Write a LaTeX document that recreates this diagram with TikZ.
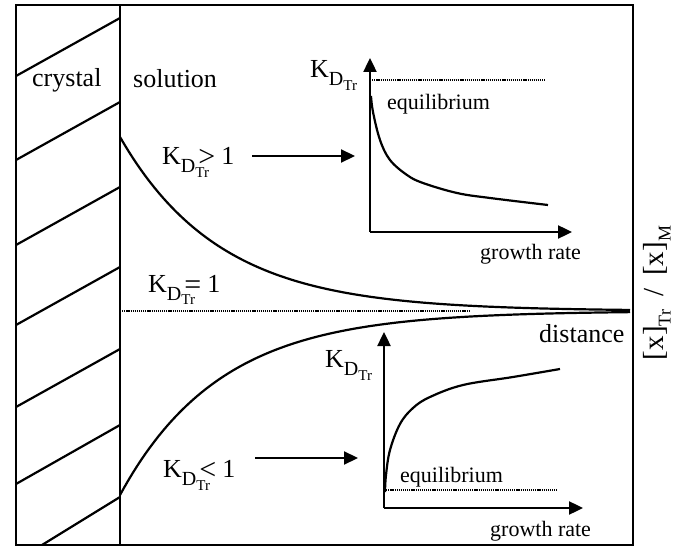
\documentclass[tikz,border=0pt]{standalone}
\usepackage{fontspec}
\setmainfont{Liberation Serif}
\usetikzlibrary{arrows.meta}
\newcommand{\KDlabel}{K\raisebox{-8pt}{\fontsize{20}{20}\selectfont D}\raisebox{-13pt}{\fontsize{15}{15}\selectfont Tr}}
\newcommand{\KDrel}[1]{K\raisebox{-8pt}{\fontsize{20}{20}\selectfont D}\rlap{\raisebox{-13pt}{\fontsize{15}{15}\selectfont Tr}}\hspace{3pt}\raisebox{-2pt}{\fontsize{30}{30}\selectfont #1}\hspace{6pt}1}
\begin{document}
\begin{tikzpicture}[x=1pt,y=-1pt,
  frame/.style={line width=2.2pt},
  curve/.style={line width=2.2pt},
  axisline/.style={line width=2.4pt,-{Triangle[length=14pt,width=13pt]}},
  pointer/.style={line width=2.2pt,-{Triangle[length=14pt,width=13pt]}},
  dotline/.style={line width=1.6pt,dash pattern=on 1.2pt off 0.9pt},
  lab/.style={inner sep=0pt,anchor=base west,font=\fontsize{26}{30}\selectfont},
  smalllab/.style={inner sep=0pt,anchor=base west,font=\fontsize{22}{26}\selectfont}]
\useasboundingbox (0,0) rectangle (691,548);
% frame
\draw[frame] (16,5) rectangle (633,545);
\draw[frame] (120,5) -- (120,545);
% hatching
\foreach \l/\r in {76/18,160/102,245/187,325/267,407/349,484/425}
  \draw[frame] (16,\l) -- (120,\r);
\draw[frame] (42,545) -- (120,497);
% texts
\node[lab] (crystal) at (32,87) {crystal};
\node[lab] (solution) at (133,88) {solution};
\node[lab] (kgt) at (162,165) {\KDrel{>}};
\node[lab] (keq) at (148,292) {\KDrel{=}};
\node[lab] (klt) at (163,477) {\KDrel{<}};
\node[lab] (distance) at (539,342) {distance};
\node[inner sep=0pt,rotate=90,font=\fontsize{29}{32}\selectfont] (ratio) at (657,293) {[x]\raisebox{-7pt}{\fontsize{18}{18}\selectfont Tr}\hspace{13pt}/\hspace{13pt}[x]\raisebox{-7pt}{\fontsize{18}{18}\selectfont M}};
% equilibrium line and profiles
\draw[dotline] (120,311) -- (470,311);
\draw[curve] plot[domain=120:630,samples=120] (\x,{311-174*exp(-(\x-120)/100)});
\draw[curve] plot[domain=120:630,samples=120] (\x,{311+184*exp(-(\x-120)/100)});
% inset 1
\coordinate (o1) at (370,232);
\coordinate (t1) at (370,58);
\coordinate (r1) at (572,232);
\draw[axisline] (o1) -- (t1);
\draw[axisline] (o1) -- (r1);
\draw[dotline] (370,80) -- (545,80);
\draw[curve] plot[smooth,tension=0.6] coordinates {(371,96) (373,112) (380,140) (390,160) (407,175) (423,183) (457,193) (490,198) (548,205)};
\node[lab] (k1) at (310,78) {\KDlabel};
\node[smalllab] (eq1) at (387,110) {equilibrium};
\node[smalllab] (gr1) at (480,260) {growth rate};
% inset 2
\coordinate (o2) at (384,508);
\coordinate (t2) at (384,332);
\coordinate (r2) at (583,508);
\draw[axisline] (o2) -- (t2);
\draw[axisline] (o2) -- (r2);
\draw[dotline] (384,490) -- (558,490);
\draw[curve] plot[smooth,tension=0.6] coordinates {(385,492) (386,475) (390,450) (400,424) (413,408) (430,397) (463,385) (513,377) (560,369)};
\node[lab] (k2) at (325,367) {\KDlabel};
\node[smalllab] (eq2) at (400,482) {equilibrium};
\node[smalllab] (gr2) at (490,536) {growth rate};
% pointers
\coordinate (a1s) at (252,156);
\coordinate (a1e) at (355,156);
\coordinate (a2s) at (255,458);
\coordinate (a2e) at (358,458);
\draw[pointer] (a1s) -- (a1e);
\draw[pointer] (a2s) -- (a2e);
\end{tikzpicture}
\end{document}
